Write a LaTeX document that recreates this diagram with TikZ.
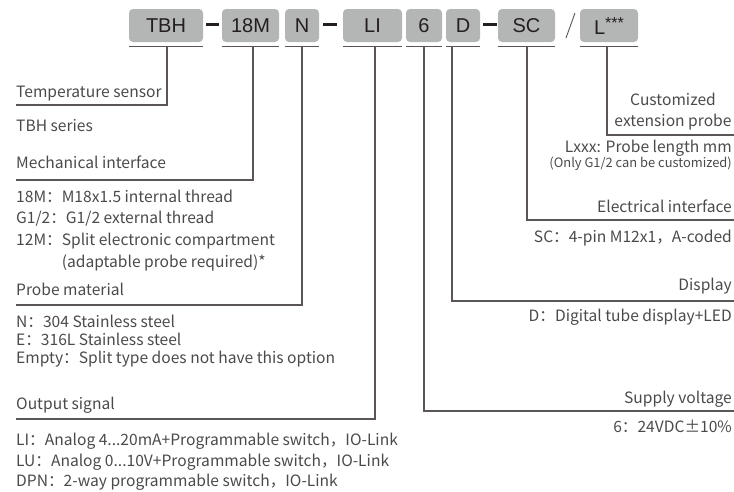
\documentclass[tikz,border=0pt]{standalone}
\usepackage{fontspec}
\setmainfont{Noto Sans CJK SC}
\newfontfamily\boxfont{Liberation Sans}
\begin{document}
\begin{tikzpicture}[x=1pt,y=-1pt,
  codebox/.style={fill=boxgray,rounded corners=4pt,inner sep=0pt,font=\boxfont\fontsize{20}{20}\selectfont,text=boxtext},
  lead/.style={draw=linegray,line width=1.2pt},
  uline/.style={draw=linegray,line width=0.9pt},
  dashbar/.style={draw=boxtext,line width=3pt},
  ltxt/.style={anchor=base west,inner sep=0pt,font=\fontsize{15.6}{18}\selectfont,text=txtgray},
  rtxt/.style={anchor=base east,inner sep=0pt,font=\fontsize{15.6}{18}\selectfont,text=txtgray},
  ctxt/.style={anchor=base,inner sep=0pt,font=\fontsize{15.6}{18}\selectfont,text=txtgray},
  smalltxt/.style={anchor=base east,inner sep=0pt,font=\fontsize{12.9}{14}\selectfont,text=txtgray}
]
\definecolor{boxgray}{HTML}{B4B5B5}
\definecolor{boxtext}{HTML}{231F20}
\definecolor{linegray}{HTML}{5A5656}
\definecolor{txtgray}{HTML}{4A4A4A}
\useasboundingbox (0,0) rectangle (734,491);
% code boxes
\node[codebox,minimum width=74pt,minimum height=33pt] (tbh) at (166,25.5) {TBH};
\node[codebox,minimum width=57pt,minimum height=33pt] (m18) at (250.5,25.5) {18M};
\node[codebox,minimum width=34pt,minimum height=33pt] (n) at (302,25.5) {N};
\node[codebox,minimum width=59pt,minimum height=33pt] (li) at (372.5,25.5) {LI};
\node[codebox,minimum width=36pt,minimum height=33pt] (six) at (424,25.5) {6};
\node[codebox,minimum width=34pt,minimum height=33pt] (d) at (463,25.5) {D};
\node[codebox,minimum width=57pt,minimum height=33pt] (sc) at (526.5,25.5) {SC};
\node[codebox,minimum width=58pt,minimum height=33pt] (l) at (609,25.5) {L\raisebox{0.3em}{\fontsize{16}{16}\selectfont ***}};
% dashes and slash
\draw[dashbar] (tbh.east) ++(3,-1) -- ++(13,0);
\draw[dashbar] (n.east) ++(4,-1) -- ++(14,0);
\draw[dashbar] (d.east) ++(3,-1) -- ++(14,0);
\coordinate (sla) at (566,38);
\coordinate (slb) at (575,13);
\draw[draw=linegray,line width=0.9pt] (sla) -- (slb);
% underlines
\foreach \b in {tbh,m18,n,li,six,d,sc,l}{
  \draw[uline] ([yshift=-4.5pt]\b.south west) -- ([yshift=-4.5pt]\b.south east);
}
% left labels
\node[ltxt] (t1) at (16,97) {Temperature sensor};
\node[ltxt] (t1a) at (16,131) {TBH series};
\node[ltxt] (t2) at (16,168) {Mechanical interface};
\node[ltxt] (t2a) at (16,202) {18M：M18x1.5 internal thread};
\node[ltxt] (t2b) at (16,223) {G1/2：G1/2 external thread};
\node[ltxt] (t2c) at (16,245) {12M：Split electronic compartment};
\node[ltxt] (t2d) at (16,267) {\phantom{12M：}(adaptable probe required)*};
\node[ltxt] (t3) at (16,295) {Probe material};
\node[ltxt] (t3a) at (16,327) {N：304 Stainless steel};
\node[ltxt] (t3b) at (16,345) {E：316L Stainless steel};
\node[ltxt] (t3c) at (16,363) {Empty：Split type does not have this option};
\node[ltxt] (t4) at (16,409) {Output signal};
\node[ltxt] (t4a) at (16,445) {LI：Analog 4...20mA+Programmable switch，IO-Link};
\node[ltxt] (t4b) at (16,466) {LU：Analog 0...10V+Programmable switch，IO-Link};
\node[ltxt] (t4c) at (16,486) {DPN：2-way programmable switch，IO-Link};
% right labels
\node[ctxt] (r1) at (673,105) {Customized};
\node[ctxt] (r1b) at (673,126) {extension probe};
\node[rtxt] (r1c) at (732,152) {Lxxx: Probe length mm};
\node[smalltxt] (r1d) at (732,167) {(Only G1/2 can be customized)};
\node[rtxt] (r2) at (732,212) {Electrical interface};
\node[rtxt] (r2a) at (732,242) {SC：4-pin M12x1，A-coded};
\node[rtxt] (r3) at (732,290) {Display};
\node[rtxt] (r3a) at (732,321) {D：Digital tube display+LED};
\node[rtxt] (r4) at (732,403) {Supply voltage};
\node[rtxt] (r4a) at (732,432) {6：24VDC±10\%};
% leader corner coordinates
\coordinate (c1) at (167,105);  \coordinate (e1) at (16,105);
\coordinate (c2) at (253,180);  \coordinate (e2) at (16,180);
\coordinate (c3) at (302,305);  \coordinate (e3) at (16,305);
\coordinate (c4) at (375,419);  \coordinate (e4) at (16,419);
\coordinate (c5) at (424,411);  \coordinate (e5) at (734,411);
\coordinate (c6) at (452,301);  \coordinate (e6) at (734,301);
\coordinate (c7) at (527,220);  \coordinate (e7) at (734,220);
\coordinate (c8) at (607,135);  \coordinate (e8) at (734,135);
% leaders
\draw[lead] (tbh.south -| c1) ++(0,4.5) -- (c1) -- (e1);
\draw[lead] (m18.south -| c2) ++(0,4.5) -- (c2) -- (e2);
\draw[lead] (n.south -| c3) ++(0,4.5) -- (c3) -- (e3);
\draw[lead] (li.south -| c4) ++(0,4.5) -- (c4) -- (e4);
\draw[lead] (six.south -| c5) ++(0,4.5) -- (c5) -- (e5);
\draw[lead] (d.south -| c6) ++(0,4.5) -- (c6) -- (e6);
\draw[lead] (sc.south -| c7) ++(0,4.5) -- (c7) -- (e7);
\draw[lead] (l.south -| c8) ++(0,4.5) -- (c8) -- (e8);
\end{tikzpicture}
\end{document}
